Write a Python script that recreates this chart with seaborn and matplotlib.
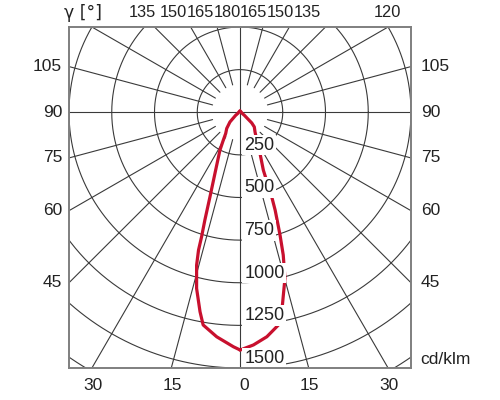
import numpy as np
import pandas as pd
import matplotlib
matplotlib.use("Agg")
import matplotlib.pyplot as plt
import seaborn as sns

# ---- data (gamma angle in degrees, intensity in cd/klm)
left_gamma = [0, 1.6, 5.9, 9.8, 11.3, 13.8, 15.8, 16.7, 17.1, 18.0, 19.5, 22.2,
              27.8, 30.8, 33.9, 39.2, 45.9, 55, 65, 90, 180]
left_cd = [1394, 1376, 1324, 1266, 1193, 1064, 932, 844, 764, 665, 526, 388,
           252, 191, 150, 123, 82, 31, 12, 8, 8]
right_gamma = [0, 3.3, 6.8, 10.2, 11.8, 13.3, 15.1, 16.8, 18.0, 18.5, 19.7, 20.5,
               20.9, 21.9, 25.8, 31, 37.3, 44.2, 47.6, 55, 65, 90, 180]
right_cd = [1395, 1367, 1326, 1268, 1195, 1102, 1009, 875, 758, 708, 610, 530,
            468, 366, 269, 190, 145, 120, 93, 31, 12, 8, 8]

ring_values = [250, 500, 750, 1000, 1250, 1500]
ring_labels = ["250", "500", "750", "1000", "1250", "1500"]
side_angles = [45, 60, 75, 90, 105]
bottom_angles = [0, 15, 30]
top_labels = ["135", "150", "165", "180", "165", "150", "135", "120"]
unit_label = "cd/klm"
gamma_label = "γ [°]"

RED = "#c8102e"
GRID = "#3a3a3a"

sns.set_theme(style="white")
plt.rcParams["font.family"] = ["Liberation Sans", "DejaVu Sans"]

fig = plt.figure(figsize=(5, 4), dpi=100)
ax = fig.add_axes([69 / 500, 32 / 400, 342 / 500, 341 / 400])
XMIN, XMAX, YMIN, YMAX = -1000, 1000, -1500, 500
ax.set_xlim(XMIN, XMAX)
ax.set_ylim(YMIN, YMAX)

# ---- polar grid
t = np.linspace(0, 2 * np.pi, 721)
for r in list(ring_values) + [1750, 2000]:
    ax.plot(r * np.cos(t), r * np.sin(t), color=GRID, lw=0.8, zorder=1)
for g in range(0, 360, 15):
    rad = np.deg2rad(g)
    r0 = 0 if g % 90 == 0 else 166
    r1 = 4000
    ax.plot([r0 * np.sin(rad), r1 * np.sin(rad)],
            [-r0 * np.cos(rad), -r1 * np.cos(rad)], color=GRID, lw=0.8, zorder=1)

# ---- curves
def to_xy(gam, cd, sign):
    gam = np.deg2rad(np.asarray(gam, float))
    cd = np.asarray(cd, float)
    return sign * cd * np.sin(gam), -cd * np.cos(gam)

lx, ly = to_xy(left_gamma, left_cd, -1)
rx, ry = to_xy(right_gamma, right_cd, 1)
df = pd.concat([
    pd.DataFrame({"x": lx, "y": ly, "plane": "C0-C180"}),
    pd.DataFrame({"x": rx, "y": ry, "plane": "C90-C270"}),
])
sns.lineplot(data=df, x="x", y="y", hue="plane", palette=[RED, RED], sort=False,
             estimator=None, legend=False, lw=2.3, ax=ax, zorder=2)

# ---- ring labels
for v, s in zip(ring_values, ring_labels):
    ax.text(25, -v + 57, s, fontsize=13, color="#222222", ha="left", va="center",
            zorder=3, bbox=dict(boxstyle="square,pad=0.1", fc="white", ec="none"))

FS = 12.5
TXT = "#222222"
# side labels (where the rays meet the frame)
for g in side_angles:
    y = -XMAX / np.tan(np.deg2rad(g)) if g != 90 else 0.0
    ax.annotate(str(g), (XMIN, y), xytext=(-7, 0), textcoords="offset pixels",
                ha="right", va="center", fontsize=FS, color=TXT, annotation_clip=False)
    ax.annotate(str(g), (XMAX, y), xytext=(10, 0), textcoords="offset pixels",
                ha="left", va="center", fontsize=FS, color=TXT, annotation_clip=False)
# bottom labels
for g in bottom_angles:
    x = -YMIN * np.tan(np.deg2rad(g))
    for sx in ([1] if g == 0 else [-1, 1]):
        ax.annotate(str(g), (sx * x, YMIN), xytext=(4 if g == 0 else 1, -18),
                    textcoords="offset pixels", ha="center", va="center",
                    fontsize=FS, color=TXT, annotation_clip=False)
# top labels (packed as in the reference)
top_px = [142, 173.5, 200.3, 227, 253.7, 280.4, 307.5, 387]
for px, s in zip(top_px, top_labels):
    fig.text(px / 500, 1 - 12.5 / 400, s, ha="center", va="center", fontsize=11.8, color=TXT)
fig.text(83 / 500, 1 - 12.5 / 400, gamma_label, ha="center", va="center", fontsize=FS,
         color=TXT, family=["DejaVu Sans"])
fig.text(420 / 500, 1 - 360 / 400, unit_label, ha="left", va="center", fontsize=FS, color=TXT)

ax.set_xticks([])
ax.set_yticks([])
ax.set_xlabel("")
ax.set_ylabel("")
for sp in ax.spines.values():
    sp.set_visible(True)
    sp.set_color("#7f7f7f")
    sp.set_linewidth(1.4)
    sp.set_zorder(4)

fig.savefig("out.png", dpi=100)
